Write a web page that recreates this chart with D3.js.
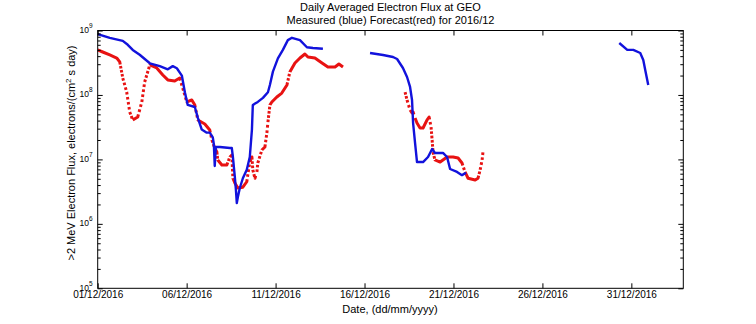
<!DOCTYPE html>
<html>
<head>
<meta charset="utf-8">
<script src="https://cdn.jsdelivr.net/npm/d3@7"></script>
<style>
  html, body { margin: 0; padding: 0; background: #fff; }
  svg { display: block; font-family: "Liberation Sans", Arial, Helvetica, sans-serif; }
</style>
</head>
<body>
<svg id="chart" width="756" height="324"></svg>
<script>
// ---- data (days since 01/12/2016 00:00, flux in electrons/(cm^2 s day)) ----
const titleLines = ["Daily Averaged Electron Flux at GEO", "Measured (blue) Forecast(red) for 2016/12"];
const xTickDays = [0, 5, 10, 15, 20, 25, 30];
const xTickLabels = ["01/12/2016", "06/12/2016", "11/12/2016", "16/12/2016", "21/12/2016", "26/12/2016", "31/12/2016"];
const yDecades = [1e5, 1e6, 1e7, 1e8, 1e9];
const yExponents = ["5", "6", "7", "8", "9"];

// Measured (blue), three segments
const blue1Days = [0,0.68,1.41,1.69,1.97,2.36,2.93,3.49,3.94,4.22,4.45,4.73,4.90,5.06,5.46,5.63,5.85,6.13,6.30,6.47,6.53,6.58,6.64,6.87,7.43,7.54,7.60,7.71,7.77,7.82,7.88,7.99,8.16,8.38,8.55,8.67,8.72,9.00,9.29,9.57,9.68,9.85,10.13,10.41,10.69,10.92,11.37,11.76,12.10,12.66];
const blue1Flux = [8.8e8,7.7e8,6.9e8,6.0e8,5.0e8,4.2e8,3.1e8,2.8e8,2.5e8,2.8e8,2.6e8,2.0e8,1.1e8,7.0e7,6.5e7,4.4e7,2.9e7,2.6e7,2.6e7,2.2e7,1.7e7,7.9e6,1.56e7,1.56e7,1.5e7,1.5e7,1.09e7,5.3e6,3.35e6,2.1e6,2.6e6,3.6e6,5.1e6,6.9e6,1.09e7,2.9e7,7.0e7,7.8e7,9.0e7,1.1e8,1.43e8,2.3e8,3.7e8,5.0e8,7.1e8,7.7e8,7.1e8,5.5e8,5.35e8,5.2e8];
const blue2Days = [15.31,16.04,16.60,16.83,17.16,17.39,17.56,17.67,17.73,17.84,17.95,18.29,18.57,18.80,18.96,19.41,19.64,19.81,20.20,20.48,20.71];
const blue2Flux = [4.48e8,4.17e8,3.88e8,3.61e8,2.62e8,1.90e8,1.33e8,8.35e7,3.67e7,1.80e7,9.1e6,9.1e6,1.09e7,1.45e7,1.26e7,1.26e7,1.09e7,7.1e6,6.4e6,5.7e6,6.2e6];
const blue3Days = [29.32,29.77,30.11,30.50,30.67,30.78,30.95];
const blue3Flux = [6.4e8,5.0e8,5.0e8,4.48e8,3.49e8,2.44e8,1.43e8];

// Forecast (red), two segments
const red1Days = [0,0.28,0.68,1.07,1.24,1.41,1.63,1.80,1.97,2.25,2.48,2.64,2.93,3.32,3.66,3.94,4.33,4.61,4.78,5.01,5.29,5.46,5.63,6.02,6.30,6.42,6.58,6.70,6.75,6.98,7.26,7.43,7.54,7.60,7.71,7.88,8.16,8.38,8.55,8.67,8.72,8.84,8.95,9.00,9.23,9.40,9.51,9.57,9.68,9.79,10.07,10.35,10.64,10.80,11.09,11.37,11.65,11.82,12.21,12.61,12.94,13.34,13.56,13.79];
const red1Flux = [5.0e8,4.64e8,4.17e8,3.74e8,3.25e8,1.83e8,1.11e8,5.44e7,4.08e7,4.55e7,7.78e7,1.59e8,2.92e8,2.62e8,2.04e8,1.71e8,1.65e8,1.83e8,1.28e8,7.78e7,8.35e7,6.98e7,4.08e7,3.54e7,2.86e7,2.0e7,1.5e7,1.3e7,9.8e6,8.2e6,8.2e6,1.09e7,1.17e7,5.1e6,4.3e6,3.6e6,3.7e6,4.5e6,9.1e6,1.09e7,6.9e6,5.1e6,6.4e6,8.8e6,1.40e7,1.56e7,2.57e7,3.80e7,6.98e7,7.78e7,9.3e7,1.07e8,1.43e8,2.27e8,3.13e8,3.74e8,4.32e8,3.88e8,3.74e8,3.13e8,2.71e8,2.71e8,3.02e8,2.71e8];
const red2Days = [17.28,17.39,17.56,17.67,17.73,17.84,17.95,18.12,18.29,18.51,18.63,18.74,18.80,18.85,18.96,19.25,19.64,19.98,20.26,20.48,20.65,20.82,21.22,21.38,21.50,21.61,21.67];
const red2Flux = [1.11e8,8.35e7,5.84e7,5.25e7,5.44e7,4.39e7,3.67e7,3.07e7,3.07e7,4.08e7,4.55e7,3.18e7,2.0e7,1.30e7,9.8e6,9.1e6,1.09e7,1.09e7,1.05e7,8.8e6,6.4e6,5.1e6,4.8e6,5.1e6,6.9e6,9.8e6,1.40e7];

// ---- chart ----
const svg = d3.select("#chart");
const pLeft = 97.7, pRight = 683.3, pTop = 30.5, pBottom = 288.3;
const x = d3.scaleLinear().domain([0, 32.92]).range([pLeft, pRight]);
const y = d3.scaleLog().domain([1e5, 1e9]).range([pBottom, pTop]);

const zip = (a, b) => a.map((d, i) => [d, b[i]]);
const line = d3.line().x(d => x(d[0])).y(d => y(d[1]));

const blueColor = "#1212dc", redColor = "#e81212";

const plot = svg.append("g");
// Forecast: dense dot markers -> solid where flat, visibly dotted where steep
[zip(red1Days, red1Flux), zip(red2Days, red2Flux)].forEach(seg => {
  const pairs = d3.pairs(seg);
  // solid continuous part
  plot.append("path").attr("d", line(seg))
    .attr("fill", "none").attr("stroke", redColor)
    .attr("stroke-width", 3).attr("stroke-linejoin", "round")
    .attr("stroke-dasharray", (() => {
      // build a dash pattern along the path: solid for flat pairs, dotted for steep pairs
      const parts = [];
      pairs.forEach(([a, b]) => {
        const dx = x(b[0]) - x(a[0]), dy = y(b[1]) - y(a[1]);
        const len = Math.hypot(dx, dy);
        const steep = Math.abs(dy) > 2.2 * Math.abs(dx) && len > 6;
        if (!steep) { parts.push([len, 0]); }
        else {
          const n = Math.max(1, Math.round(len / 4.6));
          const step = len / n;
          for (let k = 0; k < n; k++) parts.push([2.6, step - 2.6]);
        }
      });
      // merge into dasharray (dash, gap alternating)
      const arr = [];
      let curDash = 0;
      parts.forEach(([d, g]) => {
        curDash += d;
        if (g > 0) { arr.push(curDash, g); curDash = 0; }
      });
      if (curDash > 0) arr.push(curDash, 0);
      return arr.map(v => v.toFixed(2)).join(",");
    })());
});
[zip(blue1Days, blue1Flux), zip(blue2Days, blue2Flux), zip(blue3Days, blue3Flux)].forEach(seg => {
  plot.append("path").attr("d", line(seg))
    .attr("fill", "none").attr("stroke", blueColor)
    .attr("stroke-width", 2.4).attr("stroke-linejoin", "round");
});

// minor ticks
const minor = [];
for (let e = 5; e < 9; e++) for (let m = 2; m <= 9; m++) minor.push(m * Math.pow(10, e));

function styleAxis(g) {
  g.select(".domain").remove();
  g.selectAll("line").attr("stroke", "#000").attr("stroke-width", 1);
}

svg.append("g").attr("transform", `translate(0,${pBottom})`)
  .call(d3.axisBottom(x).tickValues(xTickDays).tickSize(-5).tickPadding(3)
    .tickFormat((d, i) => xTickLabels[i]))
  .call(styleAxis)
  .call(g => g.selectAll("text").attr("font-size", 10).attr("fill", "#000")
    .attr("font-family", "'Liberation Sans', Arial, sans-serif"));

svg.append("g").attr("transform", `translate(0,${pTop})`)
  .call(d3.axisTop(x).tickValues(xTickDays).tickSize(-5).tickFormat(""))
  .call(styleAxis);

svg.append("g").attr("transform", `translate(${pLeft},0)`)
  .call(d3.axisLeft(y).tickValues(yDecades).tickSize(-5).tickFormat(""))
  .call(styleAxis);
svg.append("g").attr("transform", `translate(${pLeft},0)`)
  .call(d3.axisLeft(y).tickValues(minor).tickSize(-3).tickFormat(""))
  .call(styleAxis);
svg.append("g").attr("transform", `translate(${pRight},0)`)
  .call(d3.axisRight(y).tickValues(yDecades).tickSize(-5).tickFormat(""))
  .call(styleAxis);
svg.append("g").attr("transform", `translate(${pRight},0)`)
  .call(d3.axisRight(y).tickValues(minor).tickSize(-3).tickFormat(""))
  .call(styleAxis);

// box
svg.append("rect").attr("x", pLeft).attr("y", pTop)
  .attr("width", pRight - pLeft).attr("height", pBottom - pTop)
  .attr("fill", "none").attr("stroke", "#000").attr("stroke-width", 1);

// y tick labels 10^n
yDecades.forEach((v, i) => {
  const t = svg.append("text").attr("x", 92.5).attr("y", y(v) + 2.4)
    .attr("text-anchor", "end").attr("font-size", 8.5).attr("fill", "#000");
  t.append("tspan").text("10");
  t.append("tspan").attr("dy", -5).attr("font-size", 6.5).text(yExponents[i]);
});

// titles
titleLines.forEach((s, i) => {
  svg.append("text").attr("x", 390.5).attr("y", i === 0 ? 10.7 : 24)
    .attr("text-anchor", "middle").attr("font-size", 11).attr("fill", "#000").text(s);
});

svg.append("text").attr("x", 390).attr("y", 312.7)
  .attr("text-anchor", "middle").attr("font-size", 11).attr("fill", "#000")
  .text("Date, (dd/mm/yyyy)");

const yl = svg.append("text").attr("transform", "translate(75,153) rotate(-90)")
  .attr("text-anchor", "middle").attr("font-size", 11).attr("fill", "#000");
yl.append("tspan").text(">2 MeV Electron Flux, electrons/(cm");
yl.append("tspan").attr("dy", -4).attr("font-size", 8).text("2");
yl.append("tspan").attr("dy", 4).text(" s day)");
</script>
</body>
</html>
